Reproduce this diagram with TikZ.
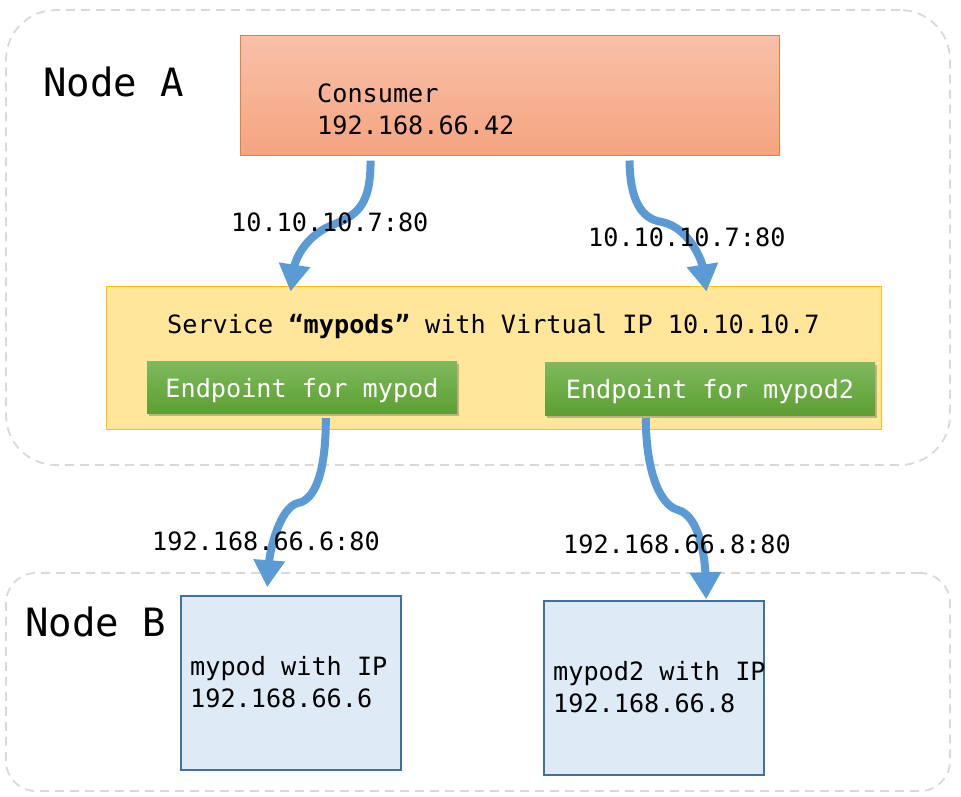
\documentclass[tikz,border=0pt]{standalone}
\usepackage{fontspec}
\setmonofont{DejaVu Sans Mono}
\usetikzlibrary{arrows.meta,shadows,calc}
\definecolor{arrowblue}{HTML}{5B9BD5}
\definecolor{dashgray}{HTML}{D9D9D9}
\definecolor{constop}{HTML}{F8C1A9}
\definecolor{consbot}{HTML}{F5A47F}
\definecolor{consborder}{HTML}{ED7D31}
\definecolor{svcfill}{HTML}{FFE699}
\definecolor{svcborder}{HTML}{FFC000}
\definecolor{eptop}{HTML}{7FB95D}
\definecolor{epbot}{HTML}{5C9F32}
\definecolor{podfill}{HTML}{DEEBF7}
\definecolor{podborder}{HTML}{41719C}
\begin{document}
\begin{tikzpicture}[x=1pt,y=-1pt,
  hostbox/.style={draw=dashgray, line width=1.8pt, dash pattern=on 9pt off 6pt, rectangle, inner sep=0pt},
  consbox/.style={draw=consborder, line width=1pt, top color=constop, bottom color=consbot, rectangle, inner sep=0pt},
  svcbox/.style={draw=svcborder, line width=1pt, fill=svcfill, rectangle, inner sep=0pt},
  epbox/.style={rectangle, inner sep=0pt, top color=eptop, bottom color=epbot,
     drop shadow={shadow xshift=1.5pt, shadow yshift=-3pt, fill=black!60, opacity=0.4},
     font=\ttfamily\fontsize{25.2}{30}\selectfont, text=white},
  podbox/.style={draw=podborder, line width=1.6pt, fill=podfill, rectangle, inner sep=0pt},
  txt/.style={font=\ttfamily\fontsize{25.2}{30}\selectfont, inner sep=0pt, anchor=base west},
  bigtxt/.style={font=\ttfamily\fontsize{39}{45}\selectfont, inner sep=0pt, anchor=base west},
  flow/.style={draw=arrowblue, line width=8pt, -{Triangle[width=30pt,length=27pt]}, color=arrowblue}
]
\useasboundingbox (0,0) rectangle (961,796);

% host boxes
\node[hostbox, minimum width=944pt, minimum height=455pt, rounded corners=50pt] (hostA) at (478,237.5) {};
\node[hostbox, minimum width=944pt, minimum height=218pt, rounded corners=30pt] (hostB) at (478,682) {};
\node[bigtxt] (labA) at (43,96) {Node A};
\node[bigtxt] (labB) at (25,636) {Node B};

% consumer
\node[consbox, minimum width=539pt, minimum height=120pt] (consumer) at (509.5,95) {};
\node[txt] (constxt1) at (317,102) {Consumer};
\node[txt] (constxt2) at (317,134) {192.168.66.42};

% service
\node[svcbox, minimum width=775pt, minimum height=143pt] (service) at (493.5,357.5) {};
\node[txt] (svctxt) at (167,333) {Service {\bfseries “mypods”} with Virtual IP 10.10.10.7};

% endpoints
\node[epbox, minimum width=310pt, minimum height=52pt] (ep1) at (302,387) {};
\node[txt, text=white, anchor=base] (ep1txt) at (302,397) {Endpoint for mypod};
\node[epbox, minimum width=330pt, minimum height=53pt] (ep2) at (710,388.5) {};
\node[txt, text=white, anchor=base] (ep2txt) at (710,398) {Endpoint for mypod2};

% pods
\node[podbox, minimum width=220pt, minimum height=174pt] (pod1) at (291,683) {};
\node[txt] (pod1txt1) at (190,675) {mypod with IP};
\node[txt] (pod1txt2) at (190,707) {192.168.66.6};
\node[podbox, minimum width=220pt, minimum height=174pt] (pod2) at (654,688) {};
\node[txt] (pod2txt1) at (553,680) {mypod2 with IP};
\node[txt] (pod2txt2) at (553,712) {192.168.66.8};

% anchor coordinates
\coordinate (a1s) at ($(consumer.south west)+(131,5)$);
\coordinate (a1e) at ($(service.north west)+(185,6)$);
\coordinate (a2s) at ($(consumer.south west)+(390,5)$);
\coordinate (a2e) at ($(service.north west)+(601,6)$);
\coordinate (a3s) at ($(ep1.south west)+(179,5)$);
\coordinate (a3e) at ($(pod1.north west)+(87,-8)$);
\coordinate (a4s) at ($(ep2.south west)+(101,3)$);
\coordinate (a4e) at ($(pod2.north west)+(163,-1)$);

% arrows
\draw[flow] (a1s) .. controls (371,208) and (355,216) .. (330,226)
   .. controls (303,238) and (295,262) .. (a1e);
\draw[flow] (a2s) .. controls (630,198) and (640,219) .. (662,222)
   .. controls (690,228) and (702,262) .. (a2e);
\draw[flow] (a3s) .. controls (326,472) and (315,500) .. (298,503)
   .. controls (280,507) and (270,550) .. (a3e);
\draw[flow] (a4s) .. controls (646,472) and (660,505) .. (678,510)
   .. controls (700,516) and (705,560) .. (a4e);

% labels
\node[txt] (l1) at (231,231) {10.10.10.7:80};
\node[txt] (l2) at (588,246) {10.10.10.7:80};
\node[txt] (l3) at (152,550) {192.168.66.6:80};
\node[txt] (l4) at (563,553) {192.168.66.8:80};
\end{tikzpicture}
\end{document}
